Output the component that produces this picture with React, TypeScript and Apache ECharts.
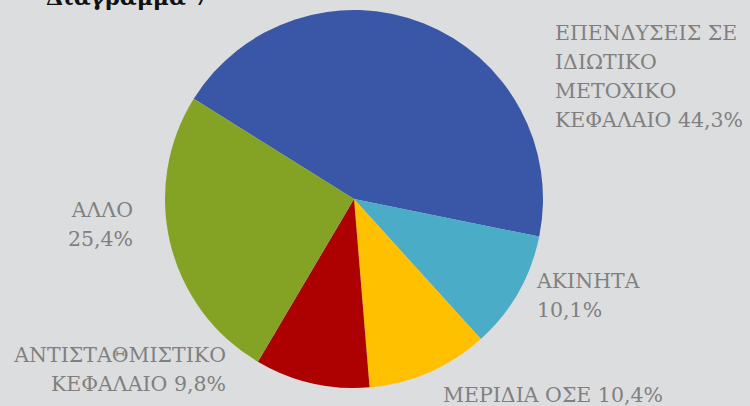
import React, { useEffect, useRef } from "react";
import * as echarts from "echarts";

const categories = [
  "ΕΠΕΝΔΥΣΕΙΣ ΣΕ\nΙΔΙΩΤΙΚΟ\nΜΕΤΟΧΙΚΟ\nΚΕΦΑΛΑΙΟ",
  "ΑΚΙΝΗΤΑ",
  "ΜΕΡΙΔΙΑ ΟΣΕ",
  "ΑΝΤΙΣΤΑΘΜΙΣΤΙΚΟ\nΚΕΦΑΛΑΙΟ",
  "ΑΛΛΟ",
];
const values = [44.3, 10.1, 10.4, 9.8, 25.4];
const separators = [" ", "\n", " ", " ", "\n"];
const colors = ["#3a56a6", "#4aacc6", "#ffc000", "#ad0000", "#84a325"];
const titleText = "Διάγραμμα 7";

const labelPos = [
  { x: 555, y: 18.5, align: "left" },
  { x: 537, y: 266.5, align: "left" },
  { x: 443, y: 380.5, align: "left" },
  { x: 226, y: 340.5, align: "right" },
  { x: 133, y: 195.5, align: "right" },
];

export default function App() {
  const ref = useRef<HTMLDivElement>(null);
  useEffect(() => {
    if (!ref.current) return;
    const chart = echarts.init(ref.current, undefined, { renderer: "svg" });
    chart.setOption({
      animation: false,
      backgroundColor: "#dcdddf",
      graphic: [
        {
          type: "text",
          left: 46,
          top: -14,
          style: {
            text: titleText,
            fontSize: 22,
            fontWeight: "bold",
            fontFamily: "DejaVu Serif",
            fill: "#111111",
          },
        },
      ],
      series: [
        {
          type: "pie",
          center: [354, 199],
          radius: 189,
          startAngle: 148,
          clockwise: true,
          data: categories.map((n, i) => ({
            name: n,
            value: values[i],
            itemStyle: { color: colors[i] },
          })),
          label: {
            show: true,
            position: "outside",
            color: "#808080",
            fontFamily: "DejaVu Serif",
            fontSize: 20.5,
            lineHeight: 29,
            formatter: (p: any) =>
              p.name + separators[p.dataIndex] + String(p.value).replace(".", ",") + "%",
          },
          labelLine: { show: false },
          labelLayout: (p: any) => {
            const l = labelPos[p.dataIndex];
            return { x: l.x, y: l.y, align: l.align, verticalAlign: "top" };
          },
        },
      ],
    });
    return () => chart.dispose();
  }, []);
  return (
    <div
      ref={ref}
      style={{ position: "fixed", left: 0, top: 0, width: 750, height: 406 }}
    />
  );
}
